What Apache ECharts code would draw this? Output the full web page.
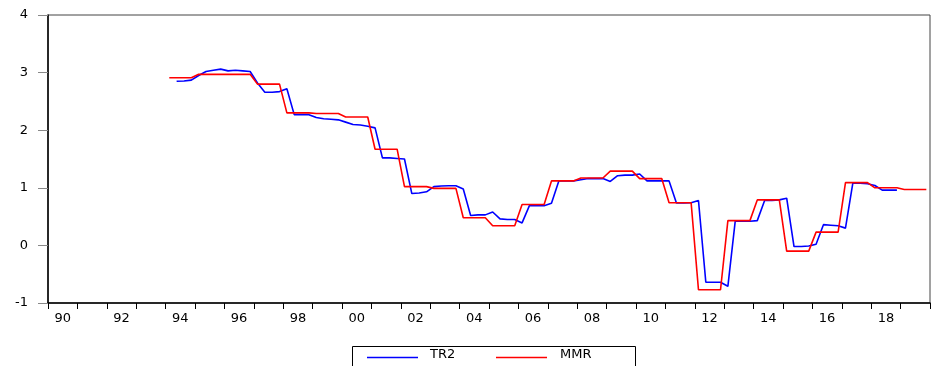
<!DOCTYPE html>
<html>
<head>
<meta charset="utf-8">
<script src="https://cdn.jsdelivr.net/npm/echarts@6/dist/echarts.min.js"></script>
<style>
html,body{margin:0;padding:0;background:#fff;}
#chart{width:933px;height:366px;}
</style>
</head>
<body>
<div id="chart"></div>
<script>
// Quarterly observations; MMR starts 1994Q1, TR2 starts 1994Q2
const mmrStart = [1994, 1];
const tr2Start = [1994, 2];

const mmrValues = [
  2.91, 2.91, 2.91, 2.91,
  2.97, 2.97, 2.97, 2.97,
  2.97, 2.97, 2.97, 2.97,
  2.80, 2.80, 2.80, 2.80,
  2.30, 2.30, 2.30, 2.30,
  2.29, 2.29, 2.29, 2.29,
  2.23, 2.23, 2.23, 2.23,
  1.67, 1.67, 1.67, 1.67,
  1.02, 1.02, 1.02, 1.02,
  0.99, 0.99, 0.99, 0.99,
  0.48, 0.48, 0.48, 0.48,
  0.34, 0.34, 0.34, 0.34,
  0.71, 0.71, 0.71, 0.71,
  1.12, 1.12, 1.12, 1.12,
  1.17, 1.17, 1.17, 1.17,
  1.29, 1.29, 1.29, 1.29,
  1.16, 1.16, 1.16, 1.16,
  0.74, 0.74, 0.74, 0.74,
  -0.77, -0.77, -0.77, -0.77,
  0.43, 0.43, 0.43, 0.43,
  0.79, 0.79, 0.79, 0.79,
  -0.10, -0.10, -0.10, -0.10,
  0.23, 0.23, 0.23, 0.23,
  1.09, 1.09, 1.09, 1.09,
  1.00, 1.00, 1.00, 1.00,
  0.97, 0.97, 0.97, 0.97
];

const tr2Values = [
  2.85, 2.855, 2.87,
  2.95, 3.02, 3.04, 3.06,
  3.03, 3.04, 3.03, 3.02,
  2.82, 2.66, 2.66, 2.67,
  2.72, 2.27, 2.27, 2.27,
  2.22, 2.20, 2.19, 2.18,
  2.14, 2.10, 2.09, 2.07,
  2.04, 1.52, 1.52, 1.51,
  1.50, 0.90, 0.91, 0.93,
  1.02, 1.03, 1.035, 1.035,
  0.98, 0.52, 0.53, 0.53,
  0.58, 0.46, 0.45, 0.45,
  0.39, 0.69, 0.69, 0.69,
  0.73, 1.12, 1.12, 1.12,
  1.14, 1.16, 1.16, 1.16,
  1.11, 1.21, 1.22, 1.22,
  1.24, 1.12, 1.12, 1.12,
  1.12, 0.735, 0.735, 0.74,
  0.78, -0.64, -0.64, -0.64,
  -0.71, 0.42, 0.42, 0.42,
  0.43, 0.78, 0.78, 0.79,
  0.82, -0.02, -0.02, -0.01,
  0.02, 0.36, 0.35, 0.34,
  0.30, 1.08, 1.08, 1.07,
  1.04, 0.96, 0.96, 0.96
];

const xTickLabels = ['90','92','94','96','98','00','02','04','06','08','10','12','14','16','18'];
const yTickLabels = ['-1','0','1','2','3','4'];
const TR2_COLOR = '#0000ff';
const MMR_COLOR = '#ff0000';

function toPairs(start, vals) {
  // observation placed at the middle of its quarter
  return vals.map(function (v, i) {
    const q = (start[1] - 1) + i;
    return [start[0] + (q + 0.5) / 4, v];
  });
}

const FONT = 'DejaVu Sans';
const chart = echarts.init(document.getElementById('chart'), null, {renderer: 'canvas'});
chart.setOption({
  animation: false,
  backgroundColor: '#ffffff',
  color: [TR2_COLOR, MMR_COLOR],
  grid: {
    left: 48, top: 15, width: 894, height: 288,
    show: true, borderColor: '#444444', borderWidth: 1, backgroundColor: 'transparent'
  },
  xAxis: [
    {
      type: 'value', min: 1990, max: 2020, interval: 1,
      axisLine: {show: true, onZero: false, lineStyle: {color: '#000', width: 1.5}},
      axisTick: {show: true, length: 6, lineStyle: {color: '#000', width: 1}},
      axisLabel: {show: false},
      splitLine: {show: false}
    },
    {
      type: 'value', min: 1990, max: 2020, interval: 0.5, position: 'bottom',
      axisLine: {show: false, onZero: false}, axisTick: {show: false}, splitLine: {show: false},
      axisLabel: {
        show: true, margin: 9, color: '#000', fontFamily: FONT, fontSize: 13,
        showMinLabel: true, showMaxLabel: true,
        formatter: function (v) {
          const y = v - 0.5;
          if (Math.abs(y - Math.round(y)) > 1e-6) return '';
          const idx = (Math.round(y) - 1990) / 2;
          if (idx >= 0 && Number.isInteger(idx) && idx < xTickLabels.length) return xTickLabels[idx];
          return '';
        }
      }
    }
  ],
  yAxis: {
    type: 'value', min: -1, max: 4, interval: 1,
    axisLine: {show: true, onZero: false, lineStyle: {color: '#000', width: 1.5}},
    axisTick: {show: true, length: 10, lineStyle: {color: '#888', width: 1}},
    splitLine: {show: false},
    axisLabel: {
      margin: 20, color: '#000', fontFamily: FONT, fontSize: 13,
      formatter: function (v) {
        const idx = Math.round(v) + 1;
        return yTickLabels[idx] !== undefined ? yTickLabels[idx] : '';
      }
    }
  },
  legend: [
    {
      data: ['TR2'],
      left: 425, top: 348, padding: 0,
      icon: 'rect', itemWidth: 0.1, itemHeight: 0.1,
      itemStyle: {opacity: 0}, lineStyle: {opacity: 0},
      textStyle: {color: '#000', fontFamily: FONT, fontSize: 13}
    },
    {
      data: ['MMR'],
      left: 555, top: 348, padding: 0,
      icon: 'rect', itemWidth: 0.1, itemHeight: 0.1,
      itemStyle: {opacity: 0}, lineStyle: {opacity: 0},
      textStyle: {color: '#000', fontFamily: FONT, fontSize: 13}
    }
  ],
  graphic: [
    {
      type: 'rect', silent: true,
      shape: {x: 352.5, y: 346.5, width: 283, height: 40},
      style: {fill: 'none', stroke: '#000', lineWidth: 1}
    },
    {
      type: 'line', silent: true, z: 100,
      shape: {x1: 367, y1: 357.5, x2: 418, y2: 357.5},
      style: {stroke: TR2_COLOR, lineWidth: 1.6}
    },
    {
      type: 'line', silent: true, z: 100,
      shape: {x1: 496, y1: 357.5, x2: 547, y2: 357.5},
      style: {stroke: MMR_COLOR, lineWidth: 1.6}
    }
  ],
  series: [
    {
      name: 'TR2', type: 'line', xAxisIndex: 0, symbol: 'none',
      data: toPairs(tr2Start, tr2Values),
      lineStyle: {color: TR2_COLOR, width: 1.6},
      itemStyle: {color: TR2_COLOR}
    },
    {
      name: 'MMR', type: 'line', xAxisIndex: 0, symbol: 'none',
      data: toPairs(mmrStart, mmrValues),
      lineStyle: {color: MMR_COLOR, width: 1.6},
      itemStyle: {color: MMR_COLOR}
    }
  ]
});
</script>
</body>
</html>
